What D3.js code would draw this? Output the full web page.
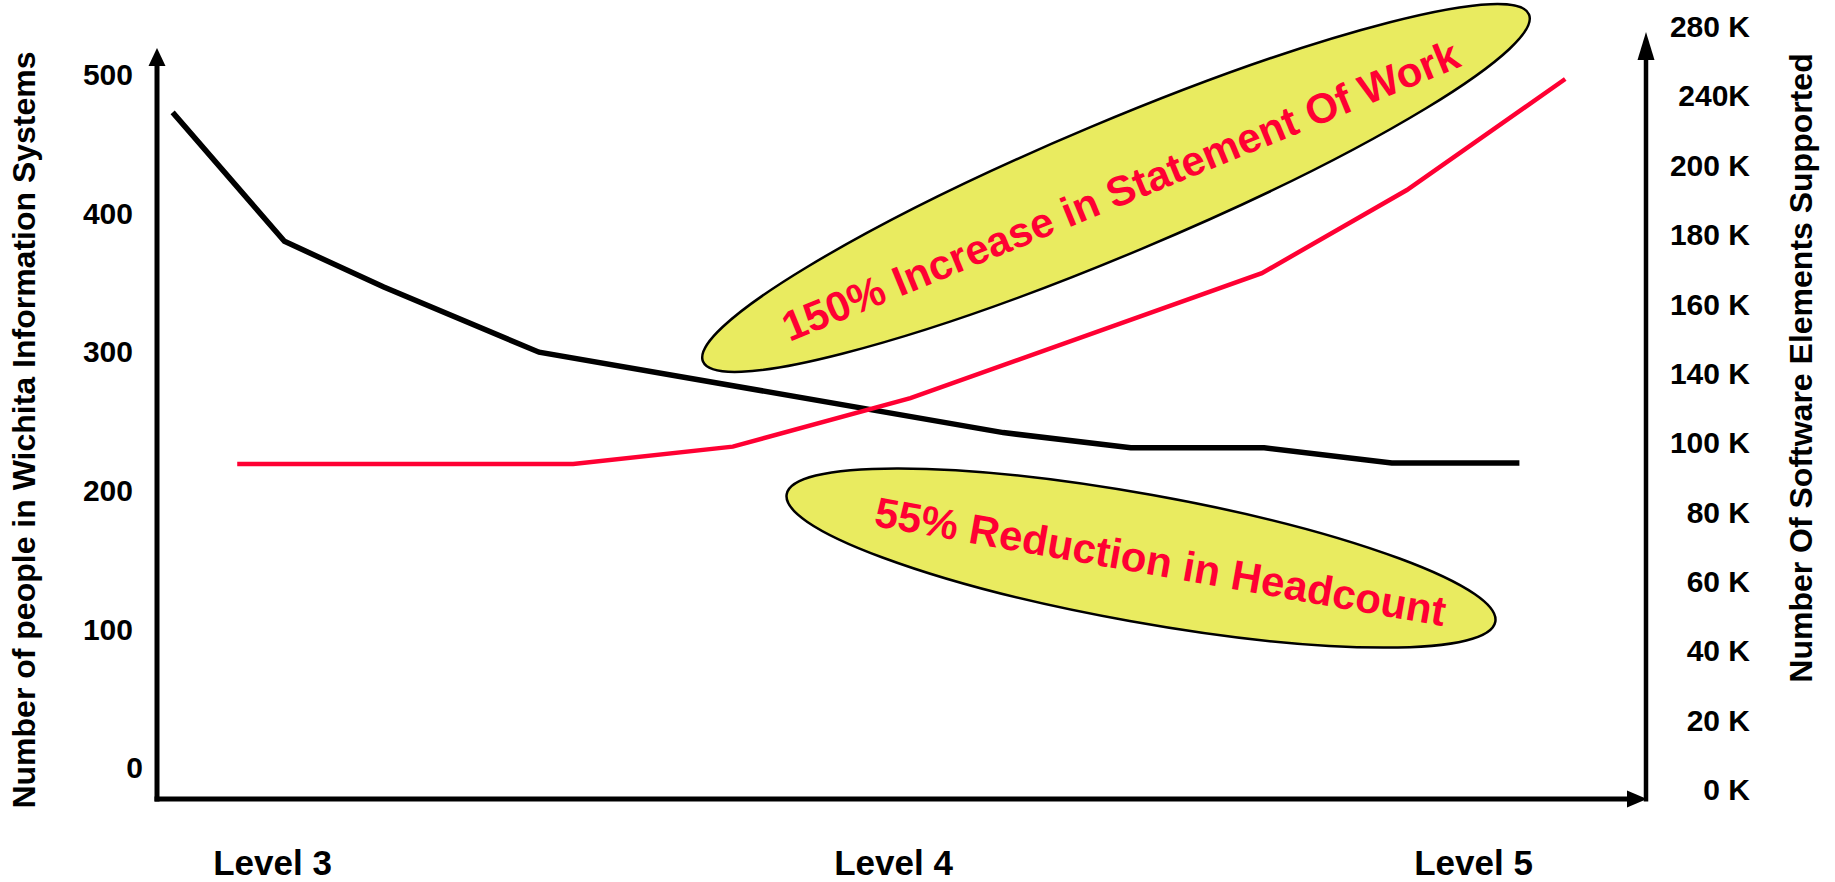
<!DOCTYPE html>
<html>
<head>
<meta charset="utf-8">
<script src="https://cdn.jsdelivr.net/npm/d3@7"></script>
<style>
  html, body { margin: 0; padding: 0; background: #ffffff; }
  svg { display: block; }
  text { font-family: "Liberation Sans", Arial, Helvetica, sans-serif; font-weight: bold; }
</style>
</head>
<body>
<svg id="chart" width="1835" height="882"></svg>
<script>
// ---- data ----
const levels = ["Level 3", "Level 4", "Level 5"];
const levelValues = [3, 4, 5];

// headcount (left axis), positions along the level timeline
const headcountLevel = [2.84, 3.02, 3.18, 3.43, 4.19, 4.41, 4.64, 4.86, 5.08];
const headcount = [473, 380, 347, 300, 242, 231, 231, 220, 220];

// software elements supported, in thousands (right axis)
const elementsLevel = [2.944, 3.485, 3.742, 4.03, 4.636, 4.886, 5.159];
const elementsK = [94, 94, 99, 126, 169, 193, 250];

const leftTicks = [0, 100, 200, 300, 400, 500];
const rightTicks = [0, 20, 40, 60, 80, 100, 140, 160, 180, 200, 240, 280];
const rightTickLabels = ["0 K", "20 K", "40 K", "60 K", "80 K", "100 K", "140 K", "160 K", "180 K", "200 K", "240K", "280 K"];

const leftTitle = "Number of people in Wichita Information Systems";
const rightTitle = "Number Of Software Elements Supported";
const noteIncrease = "150% Increase in Statement Of Work";
const noteReduction = "55% Reduction in Headcount";

// ---- layout ----
const svg = d3.select("#chart");
const RED = "#ff0033";
const YELLOW = "#e9eb60";
const axisLeftX = 157, axisRightX = 1646, axisBottomY = 799;

const x = d3.scaleLinear().domain(levelValues).range([272, 893, 1473]);
const yLeft = d3.scaleLinear().domain([0, 500]).range([768, 75]);
// right axis labels sit at even spacing although their values are not evenly spaced
const rightSlot = d3.scalePoint().domain(rightTicks).range([790, 27]);
const yRight = d3.scaleLinear().domain(rightTicks).range(rightTicks.map(d => rightSlot(d)));

// ---- series ----
const headLine = d3.line().x(d => x(d[0])).y(d => yLeft(d[1]));
svg.append("path")
  .datum(d3.zip(headcountLevel, headcount))
  .attr("d", headLine)
  .attr("fill", "none").attr("stroke", "#000").attr("stroke-width", 5.5)
  .attr("stroke-linejoin", "miter");

const elemLine = d3.line().x(d => x(d[0])).y(d => yRight(d[1]));
svg.append("path")
  .datum(d3.zip(elementsLevel, elementsK))
  .attr("d", elemLine)
  .attr("fill", "none").attr("stroke", RED).attr("stroke-width", 4.5);

// ---- axis lines with arrowheads ----
const axes = svg.append("g").attr("fill", "#000").attr("stroke", "#000");
axes.append("line").attr("x1", axisLeftX).attr("y1", axisBottomY + 2.5).attr("x2", axisLeftX).attr("y2", 62)
  .attr("stroke-width", 5);
axes.append("path").attr("stroke", "none")
  .attr("d", `M${axisLeftX},48 L${axisLeftX - 8.5},66 L${axisLeftX + 8.5},66 Z`);

axes.append("line").attr("x1", axisLeftX - 2.5).attr("y1", axisBottomY).attr("x2", 1632).attr("y2", axisBottomY)
  .attr("stroke-width", 5);
axes.append("path").attr("stroke", "none")
  .attr("d", `M1647,${axisBottomY} L1627,${axisBottomY - 8.5} L1627,${axisBottomY + 8.5} Z`);

axes.append("line").attr("x1", axisRightX).attr("y1", axisBottomY + 2.5).attr("x2", axisRightX).attr("y2", 52)
  .attr("stroke-width", 4.5);
axes.append("path").attr("stroke", "none")
  .attr("d", `M${axisRightX},32 L${axisRightX - 8.5},60 L${axisRightX + 8.5},60 Z`);

// ---- tick labels ----
const gLeft = svg.append("g").attr("transform", "translate(133,0)")
  .call(d3.axisLeft(yLeft).tickValues(leftTicks).tickSize(0).tickPadding(0));
gLeft.select(".domain").remove();
gLeft.selectAll("text").attr("font-size", 30).attr("fill", "#000")
  .style("font-family", "'Liberation Sans', Arial, sans-serif").style("font-weight", "bold");
gLeft.selectAll(".tick").filter(d => d === 0).select("text").attr("x", 10);

const gRight = svg.append("g").attr("transform", "translate(1750,0)")
  .call(d3.axisLeft(yRight).tickValues(rightTicks).tickFormat((d, i) => rightTickLabels[i]).tickSize(0).tickPadding(0));
gRight.select(".domain").remove();
gRight.selectAll("text").attr("font-size", 30).attr("fill", "#000")
  .style("font-family", "'Liberation Sans', Arial, sans-serif").style("font-weight", "bold");

const gBottom = svg.append("g").attr("transform", "translate(0,850)")
  .call(d3.axisBottom(x).tickValues(levelValues).tickFormat((d, i) => levels[i]).tickSize(0).tickPadding(0));
gBottom.select(".domain").remove();
gBottom.selectAll("text").attr("font-size", 35).attr("fill", "#000")
  .style("font-family", "'Liberation Sans', Arial, sans-serif").style("font-weight", "bold");

// ---- axis titles ----
svg.append("text").attr("transform", "translate(35,430) rotate(-90)")
  .attr("text-anchor", "middle").attr("font-size", 32).attr("fill", "#000").text(leftTitle);
svg.append("text").attr("transform", "translate(1812,368) rotate(-90)")
  .attr("text-anchor", "middle").attr("font-size", 32).attr("fill", "#000").text(rightTitle);

// ---- callouts ----
const notes = [
  { text: noteIncrease, cx: 1116, cy: 188, rx: 448, ry: 66, angle: -22.8, tx: 1126, ty: 204, tAngle: -22.3 },
  { text: noteReduction, cx: 1141, cy: 558, rx: 360, ry: 64, angle: 10.2, tx: 1158, ty: 576, tAngle: 10 }
];
const callouts = svg.append("g").selectAll("g").data(notes).join("g");
callouts.append("ellipse")
  .attr("transform", d => `translate(${d.cx},${d.cy}) rotate(${d.angle})`)
  .attr("rx", d => d.rx).attr("ry", d => d.ry)
  .attr("fill", YELLOW).attr("stroke", "#000").attr("stroke-width", 2.5);
callouts.append("text")
  .attr("transform", d => `translate(${d.tx},${d.ty}) rotate(${d.tAngle})`)
  .attr("text-anchor", "middle").attr("font-size", 42).attr("fill", RED)
  .text(d => d.text);
</script>
</body>
</html>
